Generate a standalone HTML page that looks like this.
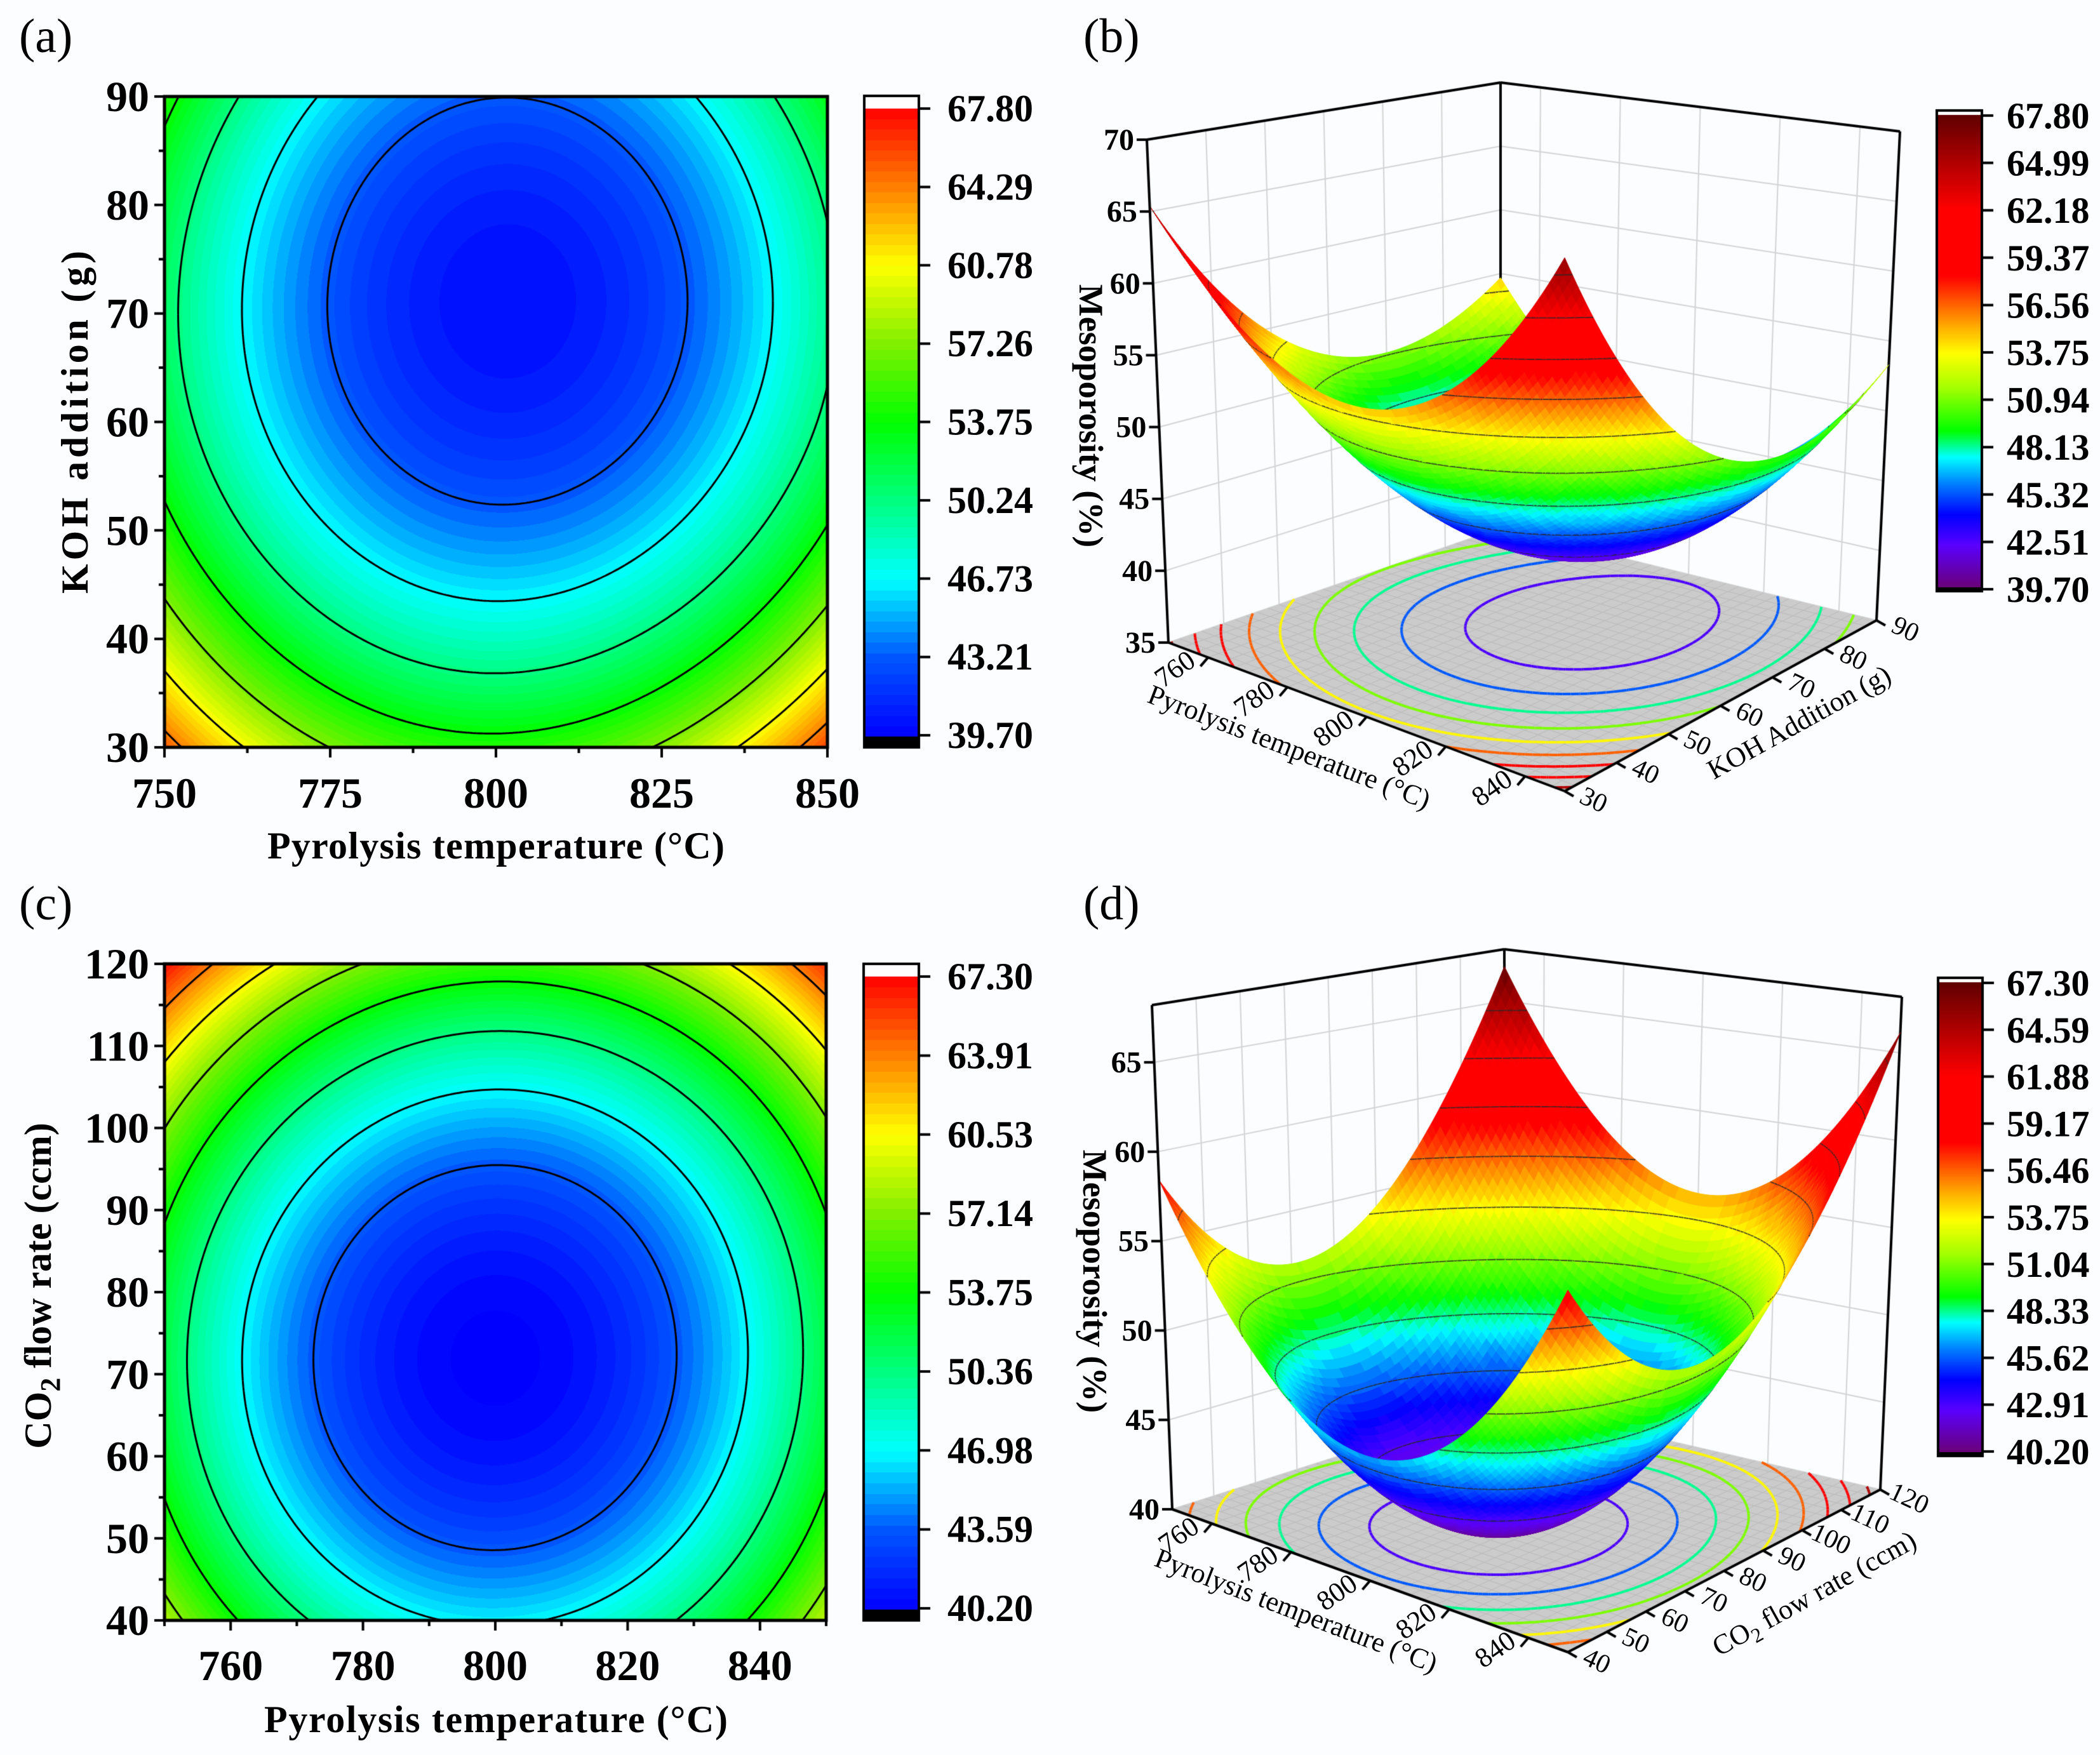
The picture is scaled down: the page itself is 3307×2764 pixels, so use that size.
<!DOCTYPE html>
<html><head><meta charset="utf-8"><style>
html,body{margin:0;padding:0;background:#fbfdfe;}
#wrap{position:relative;width:3307px;height:2764px;overflow:hidden;background:#fbfdfe;}
canvas,svg{position:absolute;left:0;top:0;}
text{font-family:"Liberation Serif","Times New Roman",serif;fill:#000;}
</style></head><body>
<div id="wrap">
<canvas id="cv" width="3307" height="2764"></canvas>
<svg id="sv" width="3307" height="2764" font-family="Liberation Serif, serif">
 <g font-size="76">
  <text x="30" y="82">(a)</text>
  <text x="1706" y="82">(b)</text>
  <text x="30" y="1448">(c)</text>
  <text x="1706" y="1448">(d)</text>
 </g>
 <g font-weight="bold" font-size="60" text-anchor="middle">
  <text x="781" y="1352" textLength="720">Pyrolysis temperature (°C)</text>
  <text transform="translate(138,665) rotate(-90)" textLength="540">KOH addition (g)</text>
  <text x="781" y="2728" textLength="730">Pyrolysis temperature (°C)</text>
  <text transform="translate(80,2025) rotate(-90)">CO<tspan font-size="44" dy="14">2</tspan><tspan dy="-14"> flow rate (ccm)</tspan></text>
  <text transform="translate(1700,655) rotate(90)" font-size="54">Mesoporosity (%)</text>
  <text transform="translate(1706,2018) rotate(90)" font-size="54">Mesoporosity (%)</text>
 </g>
 <g font-size="44" text-anchor="middle">
  <text transform="translate(2025,1190) rotate(21)">Pyrolysis temperature (°C)</text>
  <text transform="translate(2840,1150) rotate(-29)">KOH Addition (g)</text>
  <text transform="translate(2036,2550) rotate(21)">Pyrolysis temperature (°C)</text>
  <text transform="translate(2864,2522) rotate(-29)">CO<tspan font-size="32" dy="10">2</tspan><tspan dy="-10"> flow rate (ccm)</tspan></text>
 </g>
 <g id="dyn"></g>
</svg>
</div>
<script>
// ---------- data ----------
const tempA = [750, 775, 800, 825, 850];
const kohA = [30, 40, 50, 60, 70, 80, 90];
const mesoA = [
 [65.0, 57.7, 54.3, 57.6, 66.5],
 [59.3, 51.7, 48.3, 51.1, 58.8],
 [54.5, 46.9, 43.5, 46.3, 53.5],
 [51.9, 44.3, 40.9, 43.7, 50.9],
 [51.0, 43.4, 40.0, 42.8, 50.0],
 [51.8, 44.1, 40.7, 43.5, 50.7],
 [54.8, 46.3, 42.9, 45.7, 52.9]
];
const tempC = [750, 775, 800, 825, 850];
const co2C = [40, 60, 80, 100, 120];
const mesoC = [
 [58.3, 49.7, 46.7, 49.7, 58.9],
 [52.9, 43.9, 40.9, 43.9, 52.9],
 [52.4, 43.4, 40.4, 43.4, 52.4],
 [57.1, 48.1, 45.1, 48.1, 56.6],
 [67.3, 58.0, 55.0, 58.0, 66.0]
];
const cbarA = ["67.80","64.29","60.78","57.26","53.75","50.24","46.73","43.21","39.70"];
const cbarB = ["67.80","64.99","62.18","59.37","56.56","53.75","50.94","48.13","45.32","42.51","39.70"];
const cbarC = ["67.30","63.91","60.53","57.14","53.75","50.36","46.98","43.59","40.20"];
const cbarD = ["67.30","64.59","61.88","59.17","56.46","53.75","51.04","48.33","45.62","42.91","40.20"];
const xTicksA = [750, 775, 800, 825, 850];
const yTicksA = [30, 40, 50, 60, 70, 80, 90];
const xTicksC = [760, 780, 800, 820, 840];
const yTicksC = [40, 50, 60, 70, 80, 90, 100, 110, 120];
const zTicksB = [35, 40, 45, 50, 55, 60, 65, 70];
const zTicksD = [40, 45, 50, 55, 60, 65];
const tTicks3D = [760, 780, 800, 820, 840];
const kTicksB = [30, 40, 50, 60, 70, 80, 90];
const cTicksD = [40, 50, 60, 70, 80, 90, 100, 110, 120];

const cv = document.getElementById('cv');
const ctx = cv.getContext('2d');
const dyn = document.getElementById('dyn');
const NS = 'http://www.w3.org/2000/svg';

function hex(h){return [parseInt(h.substr(1,2),16),parseInt(h.substr(3,2),16),parseInt(h.substr(5,2),16)];}
function mkmap(stops){const s=stops.map(a=>[a[0],hex(a[1])]);return function(t){t=Math.max(0,Math.min(1,t));for(let i=1;i<s.length;i++){if(t<=s[i][0]){const a=s[i-1],b=s[i];const f=(t-a[0])/(b[0]-a[0]||1);return [0,1,2].map(k=>Math.round(a[1][k]+(b[1][k]-a[1][k])*f));}}return s[s.length-1][1];};}
const map2D = mkmap([[0,'#0000ff'],[0.125,'#0055ff'],[0.25,'#00ffff'],[0.375,'#00ff80'],[0.5,'#00ff00'],[0.625,'#80f000'],[0.75,'#ffff00'],[0.875,'#ff8000'],[1,'#ff0000']]);
const map3D = mkmap([[0,'#6a0078'],[0.09,'#5a00ff'],[0.154,'#0000ff'],[0.22,'#0080ff'],[0.276,'#00ffff'],[0.3,'#00ff90'],[0.331,'#00ff00'],[0.42,'#a0ff00'],[0.495,'#ffff00'],[0.55,'#ffb000'],[0.6,'#ff6000'],[0.66,'#ff0000'],[0.8,'#ff0000'],[0.9,'#b00000'],[1,'#600000']]);

// biquadratic least-squares surface through the grid values
function fitSurface(g,xs,ys){
 const cx=(xs[0]+xs[xs.length-1])/2, hx=(xs[xs.length-1]-xs[0])/2;
 const cy=(ys[0]+ys[ys.length-1])/2, hy=(ys[ys.length-1]-ys[0])/2;
 const basis=(X,Y)=>{const x=(X-cx)/hx,y=(Y-cy)/hy;const bx=[1,x,x*x],by=[1,y,y*y];const r=[];for(const a of by)for(const b of bx)r.push(a*b);return r;};
 const n=9;const A=[];for(let i=0;i<n;i++){A.push(new Array(n+1).fill(0));}
 for(let i=0;i<ys.length;i++)for(let j=0;j<xs.length;j++){const p=basis(xs[j],ys[i]);const v=g[i][j];
  for(let a=0;a<n;a++){for(let b=0;b<n;b++)A[a][b]+=p[a]*p[b];A[a][n]+=p[a]*v;}}
 for(let c=0;c<n;c++){let m=c;for(let r=c+1;r<n;r++)if(Math.abs(A[r][c])>Math.abs(A[m][c]))m=r;[A[c],A[m]]=[A[m],A[c]];
  for(let r=0;r<n;r++)if(r!==c){const f=A[r][c]/A[c][c];for(let k=c;k<=n;k++)A[r][k]-=f*A[c][k];}}
 const co=A.map((r,i)=>r[n]/r[i]);
 return (X,Y)=>{const p=basis(X,Y);let s=0;for(let k=0;k<n;k++)s+=co[k]*p[k];return s;};
}
const fA=fitSurface(mesoA,tempA,kohA), fC=fitSurface(mesoC,tempC,co2C);

function svgEl(tag,attrs,txt){const e=document.createElementNS(NS,tag);for(const k in attrs)e.setAttribute(k,attrs[k]);if(txt!==undefined)e.textContent=txt;dyn.appendChild(e);return e;}

function march(N,val,levels,toXY,draw){
 for(const L of levels){
  for(let i=0;i<N;i++)for(let j=0;j<N;j++){
   const a=val[i][j],b=val[i][j+1],c=val[i+1][j+1],d=val[i+1][j];
   const pts=[];
   const e=(v1,v2,p1,p2)=>{if((v1<L)!==(v2<L)){const f=(L-v1)/(v2-v1);pts.push([p1[0]+(p2[0]-p1[0])*f,p1[1]+(p2[1]-p1[1])*f]);}};
   e(a,b,[i,j],[i,j+1]);e(b,c,[i,j+1],[i+1,j+1]);e(c,d,[i+1,j+1],[i+1,j]);e(d,a,[i+1,j],[i,j]);
   for(let k=0;k+1<pts.length;k+=2)draw(L,toXY(pts[k]),toXY(pts[k+1]));
  }}}

// ---------- 2D contour panel ----------
function contour2D(o){
 const w=o.x1-o.x0,h=o.y1-o.y0;const img=ctx.createImageData(w,h);
 const bands=60;
 for(let py=0;py<h;py++){const Y=o.ymax-(py/h)*(o.ymax-o.ymin);
  for(let px=0;px<w;px++){const X=o.xmin+(px/w)*(o.xmax-o.xmin);
   const v=o.f(X,Y);let t=(v-o.vmin)/(o.vmax-o.vmin);t=(Math.floor(t*bands)+0.5)/bands;
   const c=map2D(t);const k=(py*w+px)*4;img.data[k]=c[0];img.data[k+1]=c[1];img.data[k+2]=c[2];img.data[k+3]=255;}}
 ctx.putImageData(img,o.x0,o.y0);
 const N=200;const val=[];
 for(let i=0;i<=N;i++){val.push([]);for(let j=0;j<=N;j++){val[i].push(o.f(o.xmin+j/N*(o.xmax-o.xmin),o.ymin+i/N*(o.ymax-o.ymin)));}}
 ctx.save();ctx.beginPath();ctx.rect(o.x0,o.y0,w,h);ctx.clip();
 ctx.strokeStyle='#000';ctx.lineWidth=3;ctx.beginPath();
 march(N,val,o.levels,p=>[o.x0+p[1]/N*w,o.y1-p[0]/N*h],(L,p,q)=>{ctx.moveTo(p[0],p[1]);ctx.lineTo(q[0],q[1]);});
 ctx.stroke();ctx.restore();
 ctx.strokeStyle='#000';ctx.lineWidth=5;ctx.strokeRect(o.x0,o.y0,w,h);
 const sx=X=>o.x0+(X-o.xmin)/(o.xmax-o.xmin)*w, sy=Y=>o.y1-(Y-o.ymin)/(o.ymax-o.ymin)*h;
 ctx.lineWidth=4;ctx.beginPath();
 for(let X=o.xmin;X<=o.xmax+1e-6;X+=o.xminor){const maj=o.xticks.some(t=>Math.abs(t-X)<1e-6);ctx.moveTo(sx(X),o.y1);ctx.lineTo(sx(X),o.y1+(maj?16:9));}
 for(let Y=o.ymin;Y<=o.ymax+1e-6;Y+=o.yminor){const maj=o.yticks.some(t=>Math.abs(t-Y)<1e-6);ctx.moveTo(o.x0,sy(Y));ctx.lineTo(o.x0-(maj?16:9),sy(Y));}
 ctx.stroke();
 for(const t of o.xticks){const e=svgEl('text',{x:sx(t),y:o.xlabY,'text-anchor':'middle','font-size':68,'font-weight':'bold'},String(t));
  
  }
 for(const t of o.yticks){const e=svgEl('text',{x:o.x0-24,y:sy(t)+23,'text-anchor':'end','font-size':68,'font-weight':'bold'},String(t));
  
  }
}
function colorbar(o){
 const h=o.g1-o.g0;
 for(let y=0;y<h;y++){const t=1-y/h;const q=o.step?(Math.floor(t*o.step)+0.5)/o.step:t;const c=o.map(q);ctx.fillStyle='rgb('+c+')';ctx.fillRect(o.x0,o.g0+y,o.x1-o.x0,1.5);}
 ctx.fillStyle='#fff';ctx.fillRect(o.x0,o.y0,o.x1-o.x0,o.g0-o.y0);
 ctx.fillStyle='#000';ctx.fillRect(o.x0,o.g1,o.x1-o.x0,o.y1-o.g1);
 ctx.strokeStyle='#000';ctx.lineWidth=4;ctx.strokeRect(o.x0,o.y0,o.x1-o.x0,o.y1-o.y0);
 const n=o.labels.length;ctx.lineWidth=4;ctx.beginPath();
 o.labels.forEach((l,i)=>{const y=o.t0+(o.t1-o.t0)*i/(n-1);ctx.moveTo(o.x1,y);ctx.lineTo(o.x1+18,y);
  const e=svgEl('text',{x:o.lx,y:y+20,'font-size':o.fs,'font-weight':'bold'},l);
  
  });
 ctx.stroke();
}

// ---------- 3D panel ----------
function lerp(a,b,f){return [a[0]+(b[0]-a[0])*f,a[1]+(b[1]-a[1])*f];}
function make3D(o){
 const c=o.c;
 return function(u,v,w){
  const f0=lerp(lerp(c.L,c.B,u),lerp(c.Bk,c.R,u),v);
  const f1=lerp(lerp(c.Lt,c.Bt,u),lerp(c.Bkt,c.Rt,u),v);
  return lerp(f0,f1,w);};
}
function surf3D(o){
 const P=make3D(o);
 const U=X=>(X-o.xmin)/(o.xmax-o.xmin), V=Y=>(Y-o.ymin)/(o.ymax-o.ymin), W=Z=>(Z-o.zmin)/(o.zmax-o.zmin);
 const line=(a,b,col,lw)=>{ctx.strokeStyle=col;ctx.lineWidth=lw;ctx.beginPath();ctx.moveTo(a[0],a[1]);ctx.lineTo(b[0],b[1]);ctx.stroke();};
 for(const z of o.zticks){const w=W(z);line(P(0,0,w),P(0,1,w),'#d4d4d4',2);line(P(0,1,w),P(1,1,w),'#d4d4d4',2);}
 for(const t of o.yticksV){line(P(0,V(t),0),P(0,V(t),1),'#d4d4d4',2);}
 for(const t of o.xticksV){line(P(U(t),1,0),P(U(t),1,1),'#d4d4d4',2);}
 line(P(0,1,0),P(0,1,1),'#000',4);line(P(0,0,1),P(0,1,1),'#000',4);line(P(0,1,1),P(1,1,1),'#000',4);line(P(1,1,0),P(1,1,1),'#000',4);
 ctx.fillStyle='#cbcbcb';ctx.beginPath();[P(0,0,0),P(1,0,0),P(1,1,0),P(0,1,0)].forEach((p,i)=>i?ctx.lineTo(p[0],p[1]):ctx.moveTo(p[0],p[1]));ctx.closePath();ctx.fill();
 for(let k=1;k<30;k++){line(P(k/30,0,0),P(k/30,1,0),'#bababa',1);line(P(0,k/30,0),P(1,k/30,0),'#bababa',1);}
 const N=80;const val=[];
 for(let i=0;i<=N;i++){val.push([]);for(let j=0;j<=N;j++)val[i].push(o.f(o.xmin+j/N*(o.xmax-o.xmin),o.ymin+i/N*(o.ymax-o.ymin)));}
 const lv=o.levels;
 march(N,val,lv,p=>P(p[1]/N,p[0]/N,0),(L,p,q)=>{const cc=o.map((L-o.vmin)/(o.vmax-o.vmin));line(p,q,'rgb('+cc+')',4);});
 const quads=[];for(let i=0;i<N;i++)for(let j=0;j<N;j++)quads.push([i,j,(1-(j+0.5)/N)+(i+0.5)/N]);
 quads.sort((a,b)=>b[2]-a[2]);
 for(const q of quads){const i=q[0],j=q[1];
  const pts=[[i,j],[i,j+1],[i+1,j+1],[i+1,j]].map(p=>P(p[1]/N,p[0]/N,W(val[p[0]][p[1]])));
  const vavg=(val[i][j]+val[i][j+1]+val[i+1][j]+val[i+1][j+1])/4;
  let t=(vavg-o.vmin)/(o.vmax-o.vmin);t=(Math.floor(t*90)+0.5)/90;
  const cc=o.map(t);ctx.fillStyle='rgb('+cc+')';ctx.strokeStyle='rgb('+cc+')';ctx.lineWidth=1;
  ctx.beginPath();pts.forEach((p,k)=>k?ctx.lineTo(p[0],p[1]):ctx.moveTo(p[0],p[1]));ctx.closePath();ctx.fill();ctx.stroke();
  const a=val[i][j],b=val[i][j+1],c2=val[i+1][j+1],d=val[i+1][j];
  for(const L of lv){const cp=[];
   const e=(v1,v2,p1,p2)=>{if((v1<L)!==(v2<L)){const f=(L-v1)/(v2-v1);cp.push([p1[0]+(p2[0]-p1[0])*f,p1[1]+(p2[1]-p1[1])*f]);}};
   e(a,b,[i,j],[i,j+1]);e(b,c2,[i,j+1],[i+1,j+1]);e(c2,d,[i+1,j+1],[i+1,j]);e(d,a,[i+1,j],[i,j]);
   if(cp.length>=2){const p=P(cp[0][1]/N,cp[0][0]/N,W(L)),r=P(cp[1][1]/N,cp[1][0]/N,W(L));line(p,r,'rgba(40,40,40,0.85)',1.8);}}
 }
 line(P(0,0,0),P(0,0,1),'#000',4);line(P(0,0,0),P(1,0,0),'#000',4);line(P(1,0,0),P(1,1,0),'#000',4);
 for(const z of o.zticks){const p=P(0,0,W(z));line(p,[p[0]-16,p[1]],'#000',4);
  const e=svgEl('text',{x:p[0]-20,y:p[1]+16,'text-anchor':'end','font-size':48,'font-weight':'bold'},String(z));
  
  }
 for(const t of o.xticksV){const p=P(U(t),0,0);line(p,[p[0]-12,p[1]+14],'#000',4);
  const e=svgEl('text',{transform:'translate('+(p[0]-44)+','+(p[1]+30)+') rotate(-35)','text-anchor':'middle','font-size':44},String(t));
  
  }
 for(const t of o.yticksV){const p=P(1,V(t),0);line(p,[p[0]+14,p[1]+8],'#000',4);
  const e=svgEl('text',{transform:'translate('+(p[0]+40)+','+(p[1]+26)+') rotate(25)','text-anchor':'middle','font-size':42},String(t));
  
  }
}

ctx.fillStyle='#fbfdfe';ctx.fillRect(0,0,3307,2764);
const lvA=cbarA.map(Number).slice(1,-1), lvC=cbarC.map(Number).slice(1,-1);
contour2D({id:'a',x0:259,x1:1303,y0:152,y1:1177,xmin:750,xmax:850,ymin:30,ymax:90,f:fA,vmin:39.7,vmax:67.8,levels:lvA,xticks:xTicksA,yticks:yTicksA,xminor:12.5,yminor:5,xlabY:1272});
contour2D({id:'c',x0:259,x1:1301,y0:1518,y1:2552,xmin:750,xmax:850,ymin:40,ymax:120,f:fC,vmin:40.2,vmax:67.3,levels:lvC,xticks:xTicksC,yticks:yTicksC,xminor:10,yminor:5,xlabY:2646});
colorbar({id:'a',x0:1361,x1:1447,y0:151,y1:1177,g0:171,g1:1160,t0:171,t1:1158,labels:cbarA,lx:1492,fs:60,map:map2D,step:60});
colorbar({id:'c',x0:1360,x1:1447,y0:1518,y1:2552,g0:1538,g1:2535,t0:1538,t1:2533,labels:cbarC,lx:1492,fs:60,map:map2D,step:60});
const lvB=cbarB.map(Number).slice(1,-1), lvD=cbarD.map(Number).slice(1,-1);
surf3D({id:'b',c:{L:[1840,1012],B:[2464,1246],R:[2955,977],Bk:[2363,832],Lt:[1806,220],Bt:[2464,300],Rt:[2992,207],Bkt:[2363,130]},
 xmin:750,xmax:850,ymin:30,ymax:90,zmin:35,zmax:70,f:fA,vmin:39.7,vmax:67.8,levels:lvB,map:map3D,
 zticks:zTicksB,xticksV:tTicks3D,yticksV:kTicksB});
surf3D({id:'d',c:{L:[1846,2377],B:[2469,2602],R:[2961,2346],Bk:[2370,2210],Lt:[1814,1583],Bt:[2469,1747],Rt:[2995,1570],Bkt:[2369,1495]},
 xmin:750,xmax:850,ymin:40,ymax:120,zmin:40,zmax:68.2,f:fC,vmin:40.2,vmax:67.3,levels:lvD,map:map3D,
 zticks:zTicksD,xticksV:tTicks3D,yticksV:cTicksD});
colorbar({id:'b',x0:3050,x1:3121,y0:174,y1:931,g0:181,g1:925,t0:182,t1:928,labels:cbarB,lx:3160,fs:58,map:map3D,step:0});
colorbar({id:'d',x0:3052,x1:3122,y0:1540,y1:2293,g0:1547,g1:2287,t0:1548,t1:2286,labels:cbarD,lx:3160,fs:58,map:map3D,step:0});
</script>
</body></html>
